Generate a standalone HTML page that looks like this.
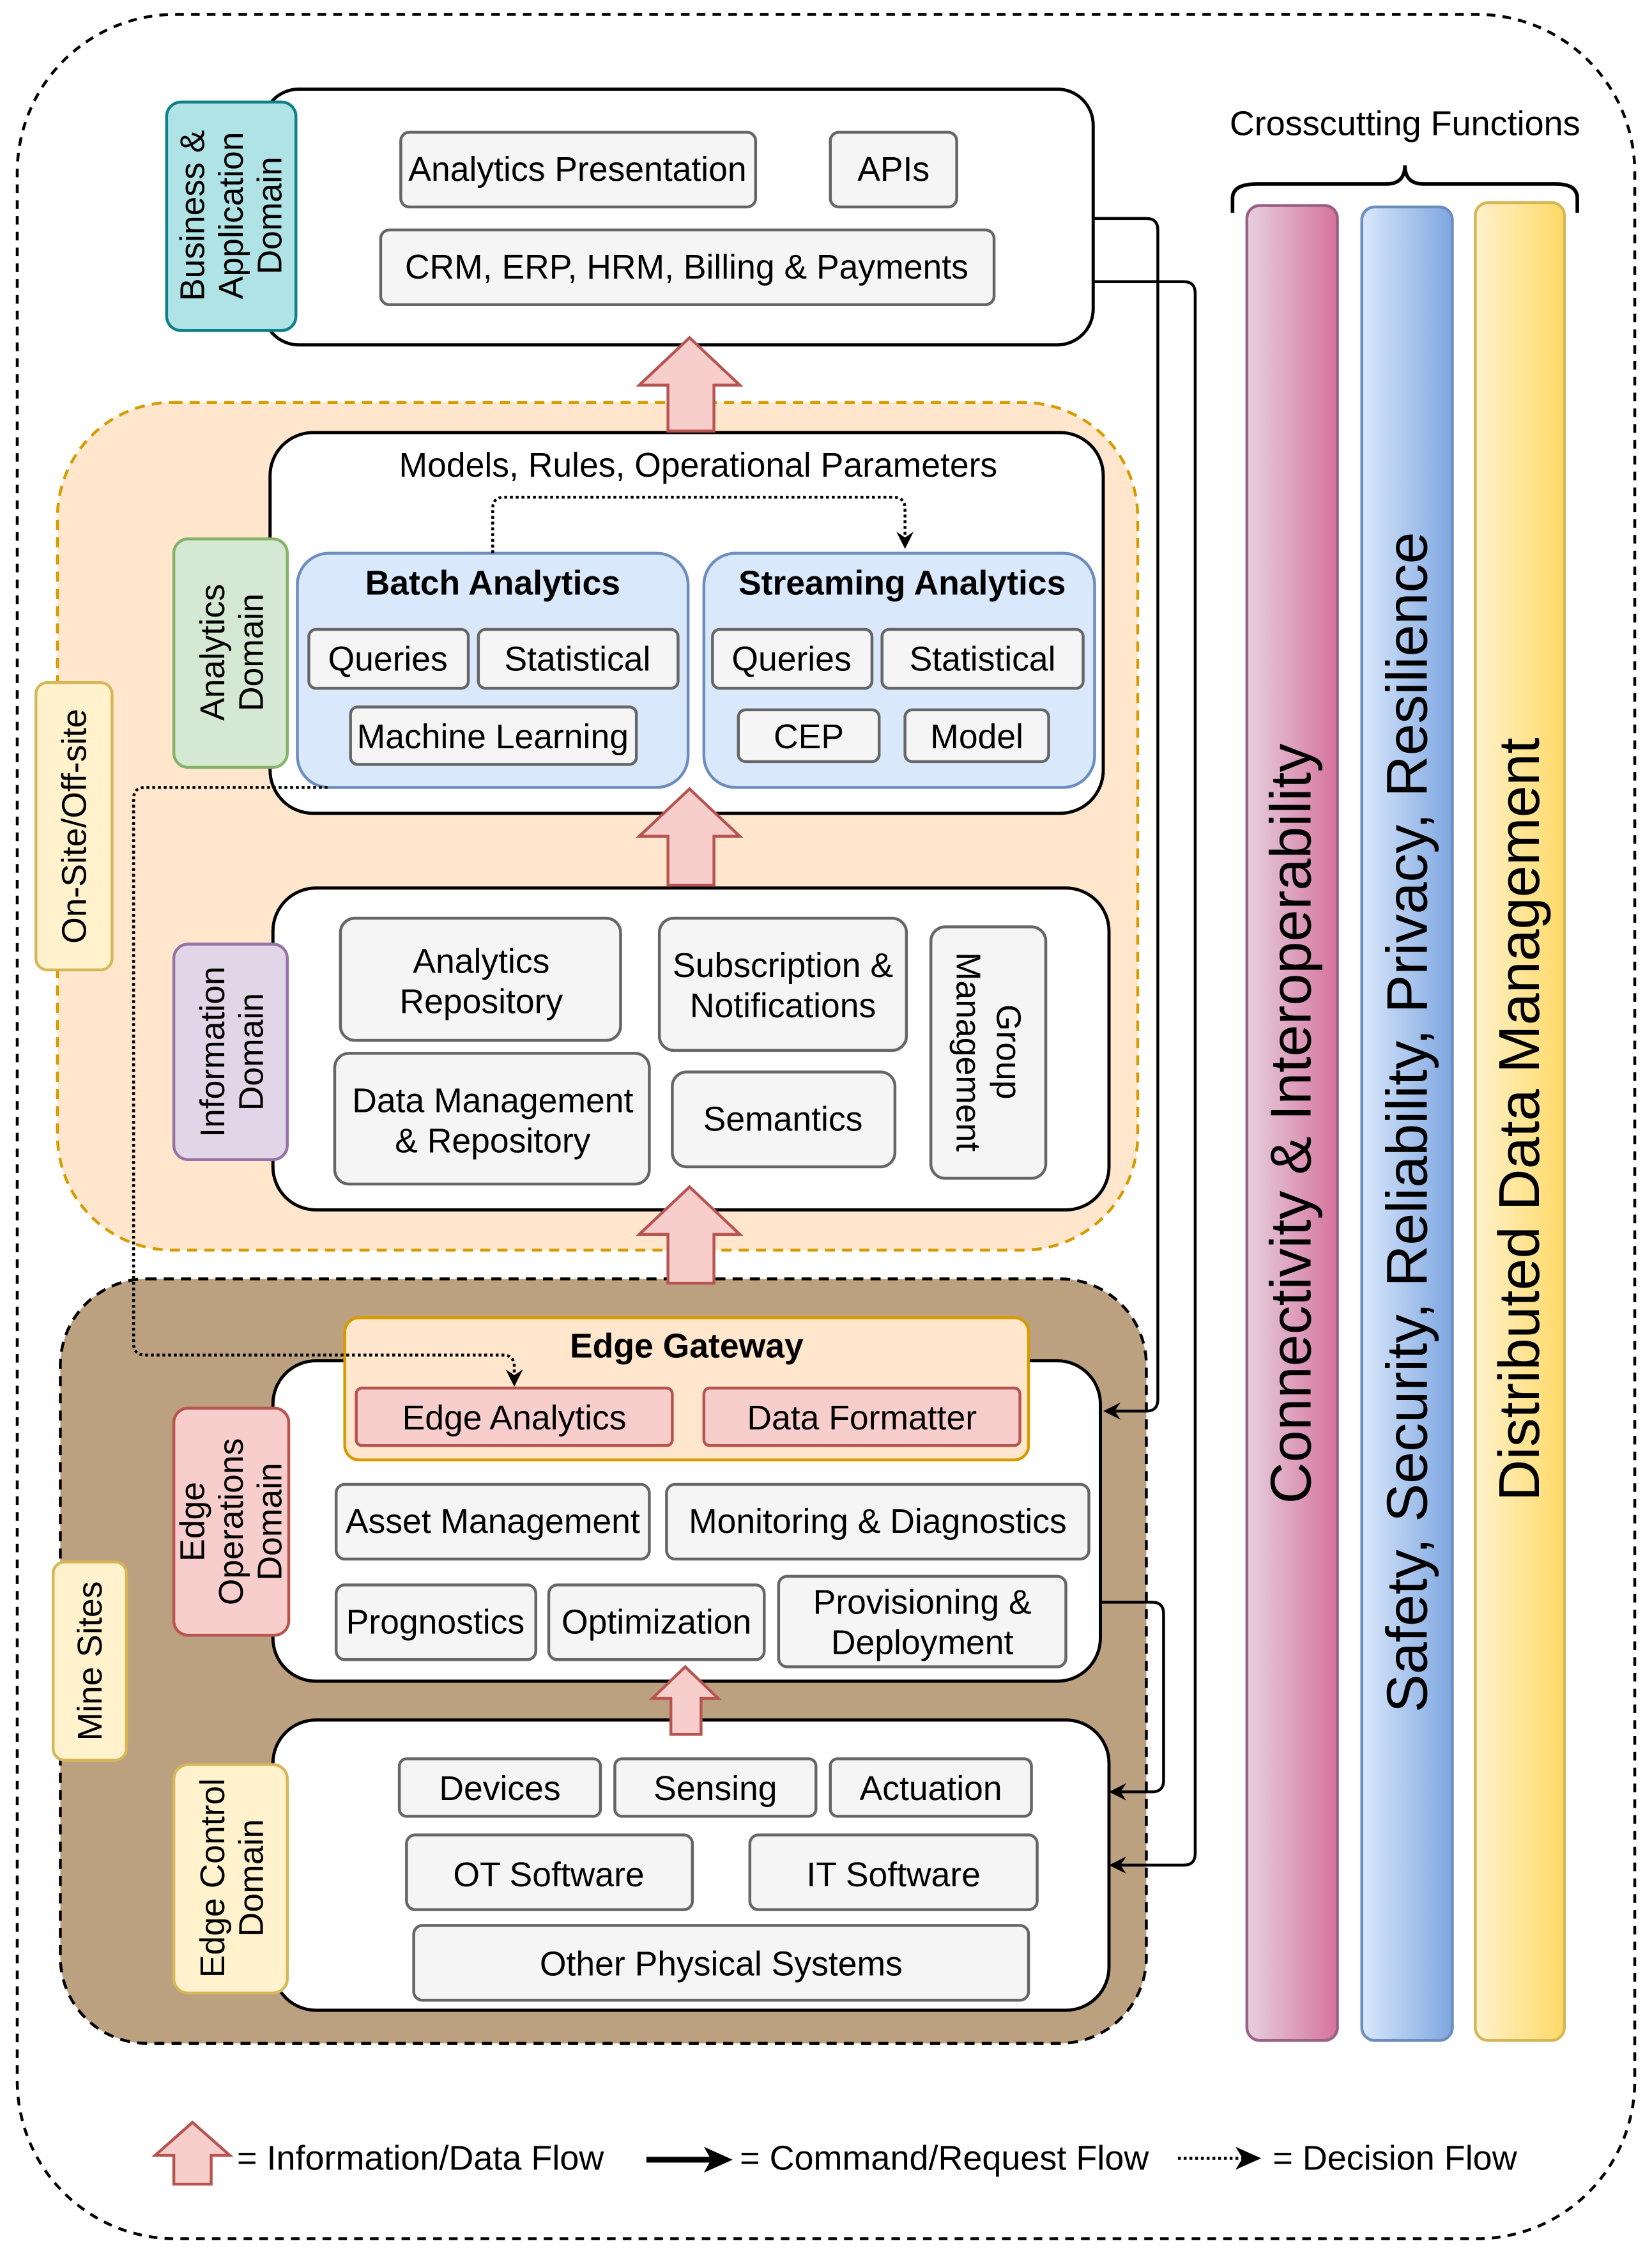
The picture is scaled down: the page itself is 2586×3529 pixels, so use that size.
<!DOCTYPE html>
<html><head><meta charset="utf-8"><style>
html,body{margin:0;padding:0;background:#fff}
svg{display:block}
text{font-family:"Liberation Sans",Arial,sans-serif;fill:#000}
.b{fill:#f5f5f5;stroke:#666;stroke-width:2}
.w{fill:#fff;stroke:#000;stroke-width:2.2}
.t{font-size:23.8px;text-anchor:middle;dominant-baseline:central}
.bold{font-weight:bold}
.fa{fill:#f8cecc;stroke:#b85450;stroke-width:2}
.cmd{fill:none;stroke:#000;stroke-width:2}
</style></head><body>
<svg width="2586" height="3529" viewBox="0 0 1150 1569.3" xmlns="http://www.w3.org/2000/svg">
<defs>
<linearGradient id="gp" x1="0" x2="1"><stop offset="0" stop-color="#e6d0de"/><stop offset="1" stop-color="#d5739d"/></linearGradient>
<linearGradient id="gb" x1="0" x2="1"><stop offset="0" stop-color="#dae8fc"/><stop offset="1" stop-color="#7ea6e0"/></linearGradient>
<linearGradient id="gy" x1="0" x2="1"><stop offset="0" stop-color="#fff2cc"/><stop offset="1" stop-color="#ffd966"/></linearGradient>
<marker id="ah" markerWidth="12" markerHeight="12" refX="10" refY="6" orient="auto" markerUnits="userSpaceOnUse"><path d="M0,0 L12,6 L0,12 L4,6 Z" fill="#000"/></marker>
</defs>
<rect x="12" y="10" width="1126" height="1548" rx="110" fill="#fff" stroke="#000" stroke-width="2" stroke-dasharray="6,5"/>

<!-- Business -->
<rect class="w" x="183" y="62" width="578" height="178" rx="25"/>
<rect x="116" y="71" width="90" height="159" rx="10" fill="#b0e3e6" stroke="#0e8088" stroke-width="2"/>
<text class="t" transform="translate(161,150) rotate(-90)"><tspan x="0" dy="-27">Business &amp;</tspan><tspan x="0" dy="27">Application</tspan><tspan x="0" dy="27">Domain</tspan></text>
<rect class="b" x="279" y="92" width="247" height="52" rx="6"/><text class="t" x="402" y="118">Analytics Presentation</text>
<rect class="b" x="578" y="92" width="88" height="52" rx="6"/><text class="t" x="622" y="118">APIs</text>
<rect class="b" x="265" y="160" width="427" height="52" rx="6"/><text class="t" x="478" y="186">CRM, ERP, HRM, Billing &amp; Payments</text>

<!-- On-site -->
<rect x="40" y="280" width="752" height="590" rx="80" fill="#ffe6cc" stroke="#d79b00" stroke-width="2" stroke-dasharray="7,5"/>
<rect x="25" y="475" width="53" height="200" rx="8" fill="#fff2cc" stroke="#d6b656" stroke-width="2"/>
<text class="t" transform="translate(52,575) rotate(-90)">On-Site/Off-site</text>

<!-- Analytics -->
<rect class="w" x="188" y="301" width="580" height="265" rx="30"/>
<text class="t" x="486" y="324">Models, Rules, Operational Parameters</text>
<rect x="121" y="375" width="79" height="159" rx="10" fill="#d5e8d4" stroke="#82b366" stroke-width="2"/>
<text class="t" transform="translate(161,454) rotate(-90)"><tspan x="0" dy="-13">Analytics</tspan><tspan x="0" dy="27">Domain</tspan></text>
<rect x="207" y="385" width="272" height="163" rx="22" fill="#dae8fc" stroke="#6c8ebf" stroke-width="2"/>
<text class="t bold" x="343" y="406">Batch Analytics</text>
<rect class="b" x="215" y="438" width="111" height="41" rx="5"/><text class="t" x="270" y="459">Queries</text>
<rect class="b" x="333" y="438" width="139" height="41" rx="5"/><text class="t" x="402" y="459">Statistical</text>
<rect class="b" x="244" y="492" width="199" height="40" rx="5"/><text class="t" x="343" y="513">Machine Learning</text>
<rect x="490" y="385" width="272" height="163" rx="22" fill="#dae8fc" stroke="#6c8ebf" stroke-width="2"/>
<text class="t bold" x="628" y="406">Streaming Analytics</text>
<rect class="b" x="496" y="438" width="111" height="41" rx="5"/><text class="t" x="551" y="459">Queries</text>
<rect class="b" x="614" y="438" width="140" height="41" rx="5"/><text class="t" x="684" y="459">Statistical</text>
<rect class="b" x="514" y="494" width="98" height="36" rx="5"/><text class="t" x="563" y="513">CEP</text>
<rect class="b" x="630" y="494" width="100" height="36" rx="5"/><text class="t" x="680" y="513">Model</text>
<path d="M343,385 V354 Q343,346 351,346 H622 Q630,346 630,354 V380" fill="none" stroke="#000" stroke-width="2" stroke-dasharray="2,2" marker-end="url(#ah)"/>

<!-- Information -->
<rect class="w" x="190" y="618" width="582" height="224" rx="30"/>
<rect x="121" y="657" width="79" height="150" rx="10" fill="#e1d5e7" stroke="#9673a6" stroke-width="2"/>
<text class="t" transform="translate(161,732) rotate(-90)"><tspan x="0" dy="-13">Information</tspan><tspan x="0" dy="27">Domain</tspan></text>
<rect class="b" x="237" y="639" width="195" height="85" rx="10"/><text class="t" x="335" y="683"><tspan x="335" dy="-14">Analytics</tspan><tspan x="335" dy="28">Repository</tspan></text>
<rect class="b" x="459" y="639" width="172" height="92" rx="10"/><text class="t" x="545" y="686"><tspan x="545" dy="-14">Subscription &amp;</tspan><tspan x="545" dy="28">Notifications</tspan></text>
<rect class="b" x="648" y="645" width="80" height="175" rx="10"/><text class="t" transform="translate(688,732) rotate(90)"><tspan x="0" dy="-14">Group</tspan><tspan x="0" dy="28">Management</tspan></text>
<rect class="b" x="233" y="733" width="219" height="91" rx="10"/><text class="t" x="343" y="780"><tspan x="343" dy="-14">Data Management</tspan><tspan x="343" dy="28">&amp; Repository</tspan></text>
<rect class="b" x="468" y="746" width="155" height="66" rx="10"/><text class="t" x="545" y="779">Semantics</text>

<!-- Mine sites -->
<rect x="42" y="890" width="756" height="532" rx="60" fill="#bca181" stroke="#000" stroke-width="2" stroke-dasharray="7,5"/>
<rect x="37" y="1087" width="51" height="138" rx="8" fill="#fff2cc" stroke="#d6b656" stroke-width="2"/>
<text class="t" transform="translate(63,1156) rotate(-90)">Mine Sites</text>

<rect class="w" x="190" y="947" width="576" height="223" rx="30"/>
<rect x="121" y="980" width="80" height="158" rx="10" fill="#f8cecc" stroke="#b85450" stroke-width="2"/>
<text class="t" transform="translate(161,1059) rotate(-90)"><tspan x="0" dy="-27">Edge</tspan><tspan x="0" dy="27">Operations</tspan><tspan x="0" dy="27">Domain</tspan></text>
<rect x="240" y="917" width="476" height="99" rx="10" fill="#ffe6cc" stroke="#d79b00" stroke-width="2"/>
<text class="t bold" x="478" y="937">Edge Gateway</text>
<rect x="248" y="966" width="220" height="40" rx="4" fill="#f8cecc" stroke="#b85450" stroke-width="2"/><text class="t" x="358" y="987">Edge Analytics</text>
<rect x="490" y="966" width="220" height="40" rx="4" fill="#f8cecc" stroke="#b85450" stroke-width="2"/><text class="t" x="600" y="987">Data Formatter</text>
<rect class="b" x="234" y="1033" width="218" height="52" rx="6"/><text class="t" x="343" y="1059">Asset Management</text>
<rect class="b" x="464" y="1033" width="294" height="52" rx="6"/><text class="t" x="611" y="1059">Monitoring &amp; Diagnostics</text>
<rect class="b" x="234" y="1103" width="139" height="52" rx="6"/><text class="t" x="303" y="1129">Prognostics</text>
<rect class="b" x="382" y="1103" width="150" height="52" rx="6"/><text class="t" x="457" y="1129">Optimization</text>
<rect class="b" x="542" y="1097" width="200" height="63" rx="6"/><text class="t" x="642" y="1129"><tspan x="642" dy="-14">Provisioning &amp;</tspan><tspan x="642" dy="28">Deployment</tspan></text>

<rect class="w" x="190" y="1197" width="582" height="202" rx="30"/>
<rect x="121" y="1228" width="79" height="159" rx="10" fill="#fff2cc" stroke="#d6b656" stroke-width="2"/>
<text class="t" transform="translate(161,1307) rotate(-90)"><tspan x="0" dy="-13">Edge Control</tspan><tspan x="0" dy="27">Domain</tspan></text>
<rect class="b" x="278" y="1224" width="140" height="40" rx="5"/><text class="t" x="348" y="1245">Devices</text>
<rect class="b" x="428" y="1224" width="140" height="40" rx="5"/><text class="t" x="498" y="1245">Sensing</text>
<rect class="b" x="578" y="1224" width="140" height="40" rx="5"/><text class="t" x="648" y="1245">Actuation</text>
<rect class="b" x="283" y="1277" width="199" height="52" rx="6"/><text class="t" x="382" y="1305">OT Software</text>
<rect class="b" x="522" y="1277" width="200" height="52" rx="6"/><text class="t" x="622" y="1305">IT Software</text>
<rect class="b" x="288" y="1340" width="428" height="52" rx="6"/><text class="t" x="502" y="1367">Other Physical Systems</text>

<!-- flow arrows -->
<path class="fa" d="M480,235 L515,268 L497,268 L497,300 L465,300 L465,268 L445,268 Z"/>
<path class="fa" d="M480,549 L515,582 L497,582 L497,616 L465,616 L465,582 L445,582 Z"/>
<path class="fa" d="M480,826 L515,859 L497,859 L497,893 L465,893 L465,859 L445,859 Z"/>
<path class="fa" d="M477,1160 L500,1182 L488,1182 L488,1207 L467,1207 L467,1182 L454,1182 Z"/>

<!-- command arrows -->
<path class="cmd" d="M761,152 H798 Q806,152 806,160 V974 Q806,982 798,982 H770" marker-end="url(#ah)"/>
<path class="cmd" d="M761,196 H824 Q832,196 832,204 V1290 Q832,1298 824,1298 H774" marker-end="url(#ah)"/>
<path class="cmd" d="M766,1115 H802 Q810,1115 810,1123 V1239 Q810,1247 802,1247 H774" marker-end="url(#ah)"/>
<!-- decision -->
<path d="M228,548 H101 Q93,548 93,556 V935 Q93,943 101,943 H350 Q358,943 358,951 V963" fill="none" stroke="#000" stroke-width="2" stroke-dasharray="2,2" marker-end="url(#ah)"/>

<!-- crosscutting -->
<text x="978" y="86" style="font-size:24px;text-anchor:middle;dominant-baseline:central">Crosscutting Functions</text>
<path d="M858,148 V138 Q858,128 875,128 H965 Q978,128 978,115 Q978,128 991,128 H1083 Q1098,128 1098,138 V148" fill="none" stroke="#000" stroke-width="2.5"/>
<rect x="868" y="143" width="63" height="1277" rx="9" fill="url(#gp)" stroke="#996185" stroke-width="2"/>
<rect x="948" y="144" width="63" height="1276" rx="9" fill="url(#gb)" stroke="#6c8ebf" stroke-width="2"/>
<rect x="1027" y="141" width="62" height="1279" rx="9" fill="url(#gy)" stroke="#d6b656" stroke-width="2"/>
<text class="t" style="font-size:40px" transform="translate(899,782) rotate(-90)">Connectivity &amp; Interoperability</text>
<text class="t" style="font-size:40px" transform="translate(980,781) rotate(-90)">Safety, Security, Reliability, Privacy, Resilience</text>
<text class="t" style="font-size:40px" transform="translate(1058,779) rotate(-90)">Distributed Data Management</text>

<!-- legend -->
<path class="fa" d="M134,1477 L160,1500 L147,1500 L147,1520 L121,1520 L121,1500 L108,1500 Z"/>
<text x="165" y="1502" style="font-size:24px;dominant-baseline:central">= Information/Data Flow</text>
<path d="M450,1503 H498" stroke="#000" stroke-width="4" fill="none"/>
<path d="M510,1503 L490,1494 L495,1503 L490,1512 Z" fill="#000"/>
<text x="515" y="1502" style="font-size:24px;dominant-baseline:central">= Command/Request Flow</text>
<path d="M820,1502 H866" stroke="#000" stroke-width="2" stroke-dasharray="2,2" fill="none"/>
<path d="M878,1502 L860,1494 L865,1502 L860,1510 Z" fill="#000"/>
<text x="886" y="1502" style="font-size:24px;dominant-baseline:central">= Decision Flow</text>
</svg>
</body></html>
